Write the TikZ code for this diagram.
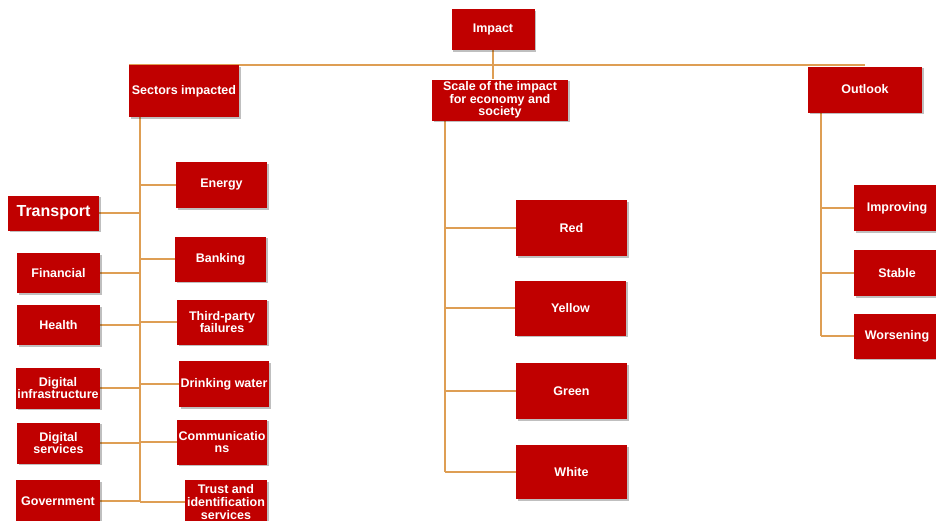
\documentclass[tikz,border=0pt]{standalone}
\usepackage{fontspec}
\setmainfont{Liberation Sans}
\usetikzlibrary{shadows,backgrounds}
\definecolor{boxred}{RGB}{192,0,0}
\definecolor{linkorange}{RGB}{222,158,84}
\begin{document}
\begin{tikzpicture}[x=1pt,y=-1pt,
    box/.style={fill=boxred,text=white,font=\fontsize{12.5}{12.6}\selectfont\bfseries,align=center,inner sep=0pt,
        drop shadow={shadow xshift=1.5pt,shadow yshift=-1.5pt,opacity=.25,fill=black}},
    link/.style={draw=linkorange,line width=1.5pt}]
        \useasboundingbox(0,0)rectangle(936,520);

        \node[box,minimum width=83,minimum height=41](imp)at(493,29.5){Impact};
        \node[box,minimum width=110,minimum height=52](sec)at(184,91){Sectors impacted};
        \node[box,minimum width=136,minimum height=41](scl)at(500,100){Scale of the impact\\for economy and\\society};
        \node[box,minimum width=114,minimum height=46](out)at(865,89.5){Outlook};

        % sectors, left of the trunk
        \node[box,minimum width=91,minimum height=35,font=\fontsize{16}{17}\selectfont\bfseries](tran)at(53.5,213){Transport};
        \node[box,minimum width=83,minimum height=40](fin)at(58.5,273){Financial};
        \node[box,minimum width=83,minimum height=40](hea)at(58.5,325){Health};
        \node[box,minimum width=84,minimum height=41](dinf)at(58,388){Digital\\infrastructure};
        \node[box,minimum width=83,minimum height=41](dser)at(58.5,443){Digital\\services};
        \node[box,minimum width=84,minimum height=42](gov)at(58,501){Government};
        % sectors, right of the trunk
        \node[box,minimum width=91,minimum height=46](ene)at(221.5,185){Energy};
        \node[box,minimum width=91,minimum height=45](ban)at(220.5,259){Banking};
        \node[box,minimum width=90,minimum height=45](thi)at(222,322){Third-party\\failures};
        \node[box,minimum width=90,minimum height=46](dri)at(224,384){Drinking water};
        \node[box,minimum width=90,minimum height=45](com)at(222,442){Communicatio\\ns};
        \node[box,minimum width=82,minimum height=44](tru)at(226,502){Trust and\\identification\\services};

        \node[box,minimum width=111,minimum height=56](red)at(571.5,228){Red};
        \node[box,minimum width=111,minimum height=55](yel)at(570.5,308){Yellow};
        \node[box,minimum width=111,minimum height=56](gre)at(571.5,391){Green};
        \node[box,minimum width=111,minimum height=54](whi)at(571.5,472){White};

        \node[box,minimum width=86,minimum height=46](imv)at(897,208){Improving};
        \node[box,minimum width=86,minimum height=46](sta)at(897,273){Stable};
        \node[box,minimum width=86,minimum height=45](wor)at(897,336){Worsening};

        \coordinate(st)at(140,117);
        \coordinate(sct)at(445,120);
        \coordinate(ot)at(821,112.5);

        \begin{scope}[on background layer]
        \fill[white](0,0)rectangle(936,520);
        \draw[link](sec.north west)--(sec.north west -| out.north);
        \draw[link](imp.south)--(imp.south |- scl.north);
        \draw[link](st)--(st |- tru.west);
        \draw[link](sct)--(sct |- whi.west);
        \draw[link](ot)--(ot |- wor.west);
        \foreach \n in {tran,fin,hea,dinf,dser,gov} \draw[link](\n.east)--(\n.east -| st);
        \foreach \n in {ene,ban,thi,dri,com,tru} \draw[link](\n.west)--(\n.west -| st);
        \foreach \n in {red,yel,gre,whi} \draw[link](\n.west)--(\n.west -| sct);
        \foreach \n in {imv,sta,wor} \draw[link](\n.west)--(\n.west -| ot);
        \end{scope}
    \end{tikzpicture}
\end{document}
